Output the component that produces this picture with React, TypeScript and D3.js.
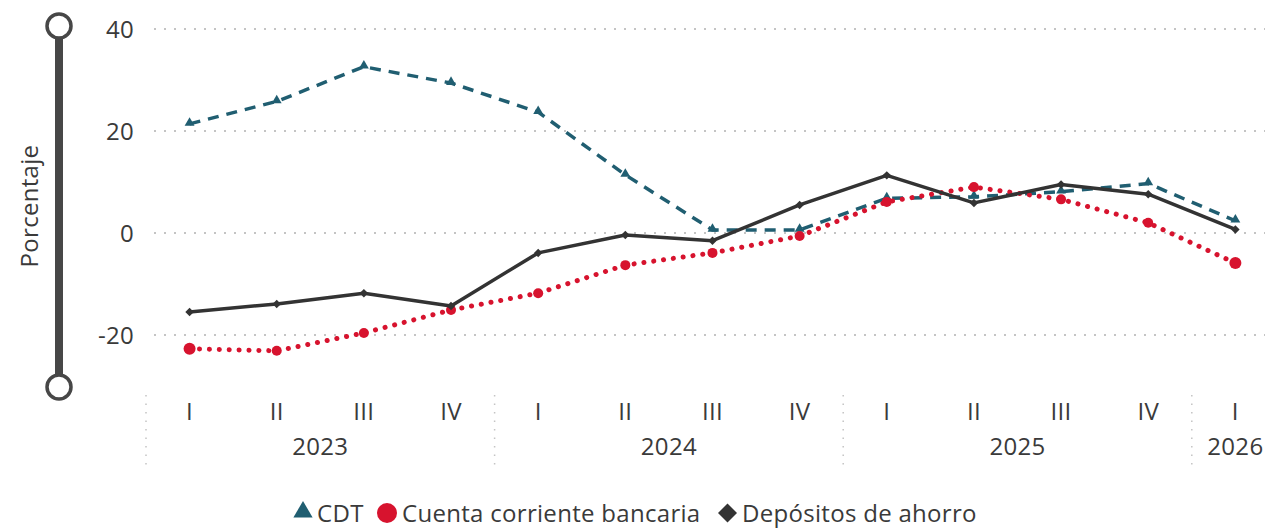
import React from "react";
import * as d3 from "d3";

const years = ["2023", "2024", "2025", "2026"];
const quarters = ["I", "II", "III", "IV", "I", "II", "III", "IV", "I", "II", "III", "IV", "I"];
const quarterYear = [0, 0, 0, 0, 1, 1, 1, 1, 2, 2, 2, 2, 3];
const cdt = [21.4, 25.8, 32.6, 29.4, 23.7, 11.4, 0.6, 0.6, 6.8, 7.1, 8.1, 9.7, 2.4];
const cuenta = [-22.7, -23.1, -19.6, -15.1, -11.8, -6.3, -3.9, -0.6, 6.1, 9.0, 6.6, 2.0, -5.9];
const ahorro = [-15.5, -13.9, -11.8, -14.3, -3.9, -0.4, -1.5, 5.5, 11.3, 5.9, 9.5, 7.6, 0.7];
const yTicks = [-20, 0, 20, 40];

const W = 1265;
const H = 528;
const FONT = "'Open Sans', 'Noto Sans', sans-serif";
const TXT = "#3a3a3a";
const C_CDT = "#205e71";
const C_RED = "#d7132e";
const C_DARK = "#333333";
const FS = 24;
const LS = 0.3;

export default function App() {
  const idx = quarters.map((_, i) => i);
  const x = d3.scaleBand<number>().domain(idx).range([146, 146 + 13 * 87.15]).padding(0);
  const cx = (i: number) => (x(i) as number) + x.bandwidth() / 2;
  const y = d3.scaleLinear().domain([-20, 40]).range([335, 29]);

  const line = d3
    .line<number>()
    .x((_, i) => cx(i))
    .y((d) => y(d));

  const yearStart = years.map((_, yi) => quarterYear.indexOf(yi));
  const yearEnd = years.map((_, yi) => quarterYear.lastIndexOf(yi));

  const tri = d3.symbol().type(d3.symbolTriangle).size(42)();
  const sq = d3.symbol().type(d3.symbolSquare).size(36)();
  const sqBig = d3.symbol().type(d3.symbolSquare).size(180)();

  return (
    <svg width={W} height={H} style={{ position: "absolute", left: 0, top: 0, fontFamily: FONT }}>
      {/* left axis decoration */}
      <line x1={59} x2={59} y1={26} y2={387} stroke="#474747" strokeWidth={8} />
      <circle cx={59} cy={26} r={12} fill="#fff" stroke="#474747" strokeWidth={3.5} />
      <circle cx={59} cy={387} r={12} fill="#fff" stroke="#474747" strokeWidth={3.5} />
      <text
        transform={`translate(38,206) rotate(-90)`}
        textAnchor="middle"
        fontSize={FS}
        letterSpacing={LS}
        fill={TXT}
      >
        Porcentaje
      </text>

      {/* gridlines */}
      {yTicks.map((t) => (
        <g key={t}>
          <line
            x1={154}
            x2={W}
            y1={y(t)}
            y2={y(t)}
            stroke="#c4c4c4"
            strokeWidth={2}
            strokeDasharray="2 8"
          />
          <text x={134} y={y(t)} dy="0.36em" textAnchor="end" fontSize={FS} letterSpacing={LS} fill={TXT}>
            {t}
          </text>
        </g>
      ))}

      {/* x axis */}
      {yearStart.map((s, yi) => (
        <line
          key={"sep" + yi}
          x1={x(s) as number}
          x2={x(s) as number}
          y1={395}
          y2={470}
          stroke="#c4c4c4"
          strokeWidth={1.5}
          strokeDasharray="1.5 7"
        />
      ))}
      {quarters.map((q, i) => (
        <text key={"q" + i} x={cx(i)} y={411} dy="0.36em" textAnchor="middle" fontSize={FS} letterSpacing={LS} fill={TXT}>
          {q}
        </text>
      ))}
      {years.map((yr, yi) => {
        const a = x(yearStart[yi]) as number;
        const b = (x(yearEnd[yi]) as number) + x.bandwidth();
        return (
          <text key={yr} x={(a + b) / 2} y={446} dy="0.36em" textAnchor="middle" fontSize={FS} letterSpacing={LS} fill={TXT}>
            {yr}
          </text>
        );
      })}

      {/* series */}
      <path d={line(cdt) as string} fill="none" stroke={C_CDT} strokeWidth={3.5} strokeDasharray="11 8" />
      {cdt.map((v, i) => (
        <path key={"t" + i} d={tri as string} transform={`translate(${cx(i)},${y(v) - 1})`} fill={C_CDT} />
      ))}

      <path
        d={line(cuenta) as string}
        fill="none"
        stroke={C_RED}
        strokeWidth={5}
        strokeLinecap="round"
        strokeDasharray="0.1 9.8"
      />
      {cuenta.map((v, i) => (
        <circle key={"c" + i} cx={cx(i)} cy={y(v)} r={i === 0 || i === cuenta.length - 1 ? 6 : 5} fill={C_RED} />
      ))}

      <path d={line(ahorro) as string} fill="none" stroke={C_DARK} strokeWidth={3.5} strokeLinejoin="round" />
      {ahorro.map((v, i) => (
        <path key={"d" + i} d={sq as string} transform={`translate(${cx(i)},${y(v)}) rotate(45)`} fill={C_DARK} />
      ))}

      {/* legend */}
      <g fontSize={FS} letterSpacing={LS} fill={TXT}>
        <path d={d3.symbol().type(d3.symbolTriangle).size(160)() as string} transform="translate(303,512)" fill={C_CDT} />
        <text x={317} y={513} dy="0.36em">CDT</text>
        <circle cx={387} cy={513} r={10} fill={C_RED} />
        <text x={402} y={513} dy="0.36em">Cuenta corriente bancaria</text>
        <path d={sqBig as string} transform="translate(727.5,513) rotate(45)" fill={C_DARK} />
        <text x={742} y={513} dy="0.36em">Depósitos de ahorro</text>
      </g>
    </svg>
  );
}
